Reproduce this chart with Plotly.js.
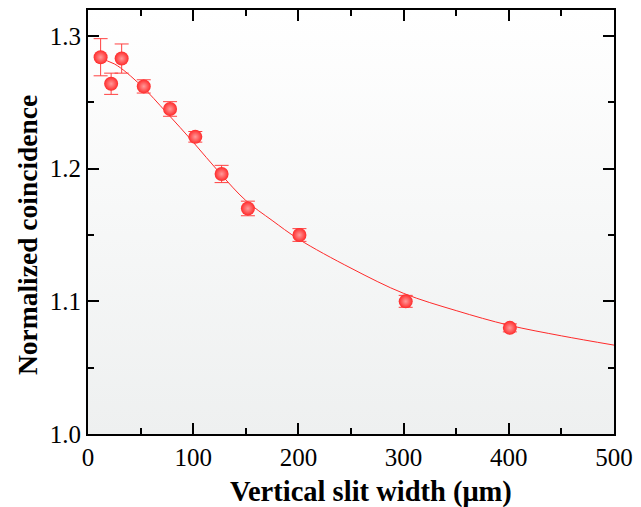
<!DOCTYPE html>
<html>
<head>
<meta charset="utf-8">
<script src="https://cdn.plot.ly/plotly-3.0.1.min.js"></script>
<style>html,body{margin:0;padding:0;background:#fff;}#chart{width:641px;height:507px;}</style>
</head>
<body>
<div id="chart"></div>
<script>
// Measured points
const slitWidth = [12, 22, 32, 53, 78, 102, 127, 152, 201, 302, 401];
const coincidence = [1.284, 1.264, 1.283, 1.262, 1.245, 1.224, 1.196, 1.170, 1.150, 1.100, 1.080];
const errors = [0.014, 0.008, 0.011, 0.005, 0.0055, 0.004, 0.0065, 0.0055, 0.0048, 0.0045, 0.003];

// Fitted curve
const fitX = [10, 25, 50, 75, 100, 125, 150, 175, 200, 250, 300, 350, 400, 450, 500];
const fitY = [1.283, 1.279, 1.263, 1.242, 1.220, 1.197, 1.176, 1.161, 1.147, 1.125, 1.106, 1.093, 1.082, 1.074, 1.067];

const xTitle = 'Vertical slit width (μm)';
const yTitle = 'Normalized coincidence';

const red = '#ff2a2a';
const serif = 'Liberation Serif';

const traces = [
  {
    x: fitX, y: fitY, type: 'scatter', mode: 'lines',
    line: {color: red, width: 1, shape: 'spline'},
    hoverinfo: 'skip', showlegend: false
  },
  {
    x: slitWidth, y: coincidence, type: 'scatter', mode: 'markers',
    error_y: {type: 'data', array: errors, visible: true, color: '#ff4040', thickness: 1, width: 7},
    marker: {size: 14, color: '#ff2a2a', line: {width: 0, color: '#ff2a2a'},
             gradient: {type: 'radial', color: '#ff9a9a'}},
    showlegend: false
  }
];

const bgSvg = '<svg xmlns="http://www.w3.org/2000/svg" width="100" height="100" preserveAspectRatio="none">' +
  '<defs><linearGradient id="g" x1="0" y1="0" x2="0" y2="1">' +
  '<stop offset="0" stop-color="#ffffff"/><stop offset="1" stop-color="#eef0f0"/></linearGradient></defs>' +
  '<rect width="100" height="100" fill="url(#g)"/></svg>';

const axisFont = {family: serif, size: 25, color: '#000'};

const layout = {
  width: 641, height: 507,
  margin: {l: 88, r: 27, t: 10, b: 73},
  paper_bgcolor: '#ffffff',
  plot_bgcolor: 'rgba(0,0,0,0)',
  showlegend: false,
  font: {family: serif, color: '#000'},
  images: [{
    source: 'data:image/svg+xml;charset=utf-8,' + encodeURIComponent(bgSvg),
    xref: 'paper', yref: 'paper', x: 0, y: 1, sizex: 1, sizey: 1,
    sizing: 'stretch', layer: 'below', xanchor: 'left', yanchor: 'top'
  }],
  xaxis: {
    range: [0, 500], dtick: 100, tick0: 0,
    showgrid: false, zeroline: false,
    showline: true, linecolor: '#000', linewidth: 2, mirror: 'allticks',
    ticks: 'inside', ticklen: 11, tickwidth: 2, tickcolor: '#000',
    minor: {dtick: 50, ticks: 'inside', ticklen: 6, tickwidth: 2, tickcolor: '#000', showgrid: false},
    tickfont: axisFont
  },
  yaxis: {
    range: [1.0, 1.3196], dtick: 0.1, tick0: 1.0, tickformat: '.1f',
    showgrid: false, zeroline: false,
    showline: true, linecolor: '#000', linewidth: 2, mirror: 'allticks',
    ticks: 'inside', ticklen: 11, tickwidth: 2, tickcolor: '#000',
    minor: {dtick: 0.05, ticks: 'inside', ticklen: 6, tickwidth: 2, tickcolor: '#000', showgrid: false},
    tickfont: axisFont
  },
  annotations: [
    {text: '<b>' + xTitle + '</b>', xref: 'paper', yref: 'paper', x: 0.5, y: 0,
     xshift: 20, yshift: -58, showarrow: false, xanchor: 'center', yanchor: 'middle',
     font: {family: serif, size: 28.5, color: '#000'}},
    {text: '<b>' + yTitle + '</b>', xref: 'paper', yref: 'paper', x: 0, y: 0.5,
     xshift: -61, yshift: -13, showarrow: false, textangle: -90, xanchor: 'center', yanchor: 'middle',
     font: {family: serif, size: 27.5, color: '#000'}}
  ]
};

Plotly.newPlot('chart', traces, layout, {displayModeBar: false, staticPlot: true});
</script>
</body>
</html>
